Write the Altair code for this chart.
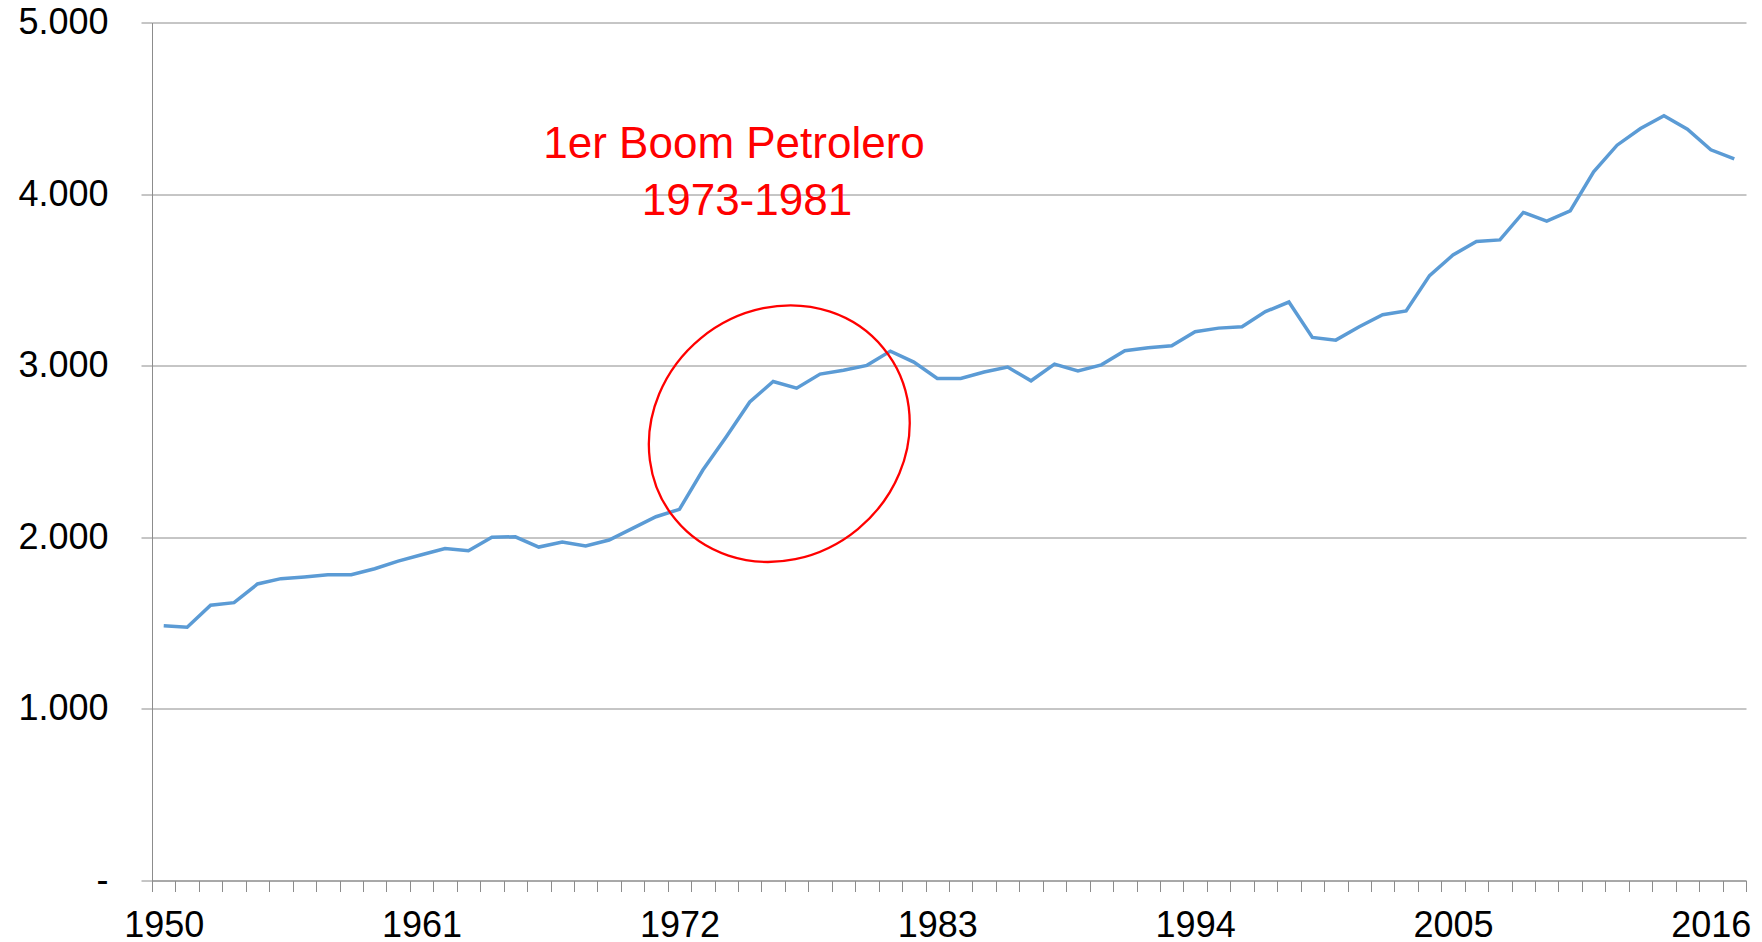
import altair as alt
import pandas as pd
import math

# ---- data ----
years = list(range(1950, 2018))
values = [
    1485, 1476, 1604, 1619, 1728, 1759, 1769, 1782, 1782, 1817,
    1861, 1898, 1935, 1922, 2001, 2003, 1943, 1972, 1949, 1984,
    2052, 2120, 2163, 2392, 2586, 2789, 2908, 2869, 2951, 2974,
    3002, 3085, 3021, 2926, 2926, 2963, 2992, 2912, 3009, 2969,
    3005, 3087, 3104, 3116, 3198, 3219, 3227, 3315, 3371, 3165,
    3149, 3227, 3297, 3319, 3525, 3645, 3724, 3733, 3893, 3842,
    3902, 4130, 4285, 4382, 4457, 4378, 4258, 4205,
]
label_years = [1950, 1961, 1972, 1983, 1994, 2005, 2016]
y_ticks = [0, 1000, 2000, 3000, 4000, 5000]

annotation_text = ["1er Boom Petrolero", "1973-1981"]
annotation_x = [1974.33, 1974.88]
annotation_y = [4209, 3878]

circle_x = [1976.26]
circle_y = [2604]

# ---- layout / style ----
W = 1594
H = 858
n_cat = len(years)
band = W / n_cat
GRAY = "#8c8c8c"
FONT = "Liberation Sans, Arial, sans-serif"

# slightly tilted ellipse outline (unit shape, scaled by symbol size)
ELL_A = 134.7          # semi-major axis, px
ELL_RATIO = 0.9146     # minor / major
ELL_ROT = -39.5        # degrees
ca = math.cos(math.radians(ELL_ROT))
sa = math.sin(math.radians(ELL_ROT))
ellipse_path = (
    f"M {ca:.4f} {sa:.4f} "
    f"A 1 {ELL_RATIO} {ELL_ROT} 1 1 {-ca:.4f} {-sa:.4f} "
    f"A 1 {ELL_RATIO} {ELL_ROT} 1 1 {ca:.4f} {sa:.4f} Z"
)

df = pd.DataFrame({"year": years, "value": values})
ann = pd.DataFrame({"x": annotation_x, "y": annotation_y, "t": annotation_text})
circ = pd.DataFrame({"x": circle_x, "y": circle_y})

tick_vals = [y - 0.5 for y in range(years[0], years[-1] + 2)]
x_label_expr = (
    "indexof([" + ",".join(str(y) for y in label_years) + "], datum.value + 0.5) >= 0"
    " ? format(datum.value + 0.5, 'd') : ''"
)
y_label_expr = (
    "datum.value == 0 ? '-\u00a0\u00a0' : replace(format(datum.value, ','), ',', '.')"
)

x_scale = alt.Scale(domain=[years[0] - 0.5, years[-1] + 0.5], nice=False, zero=False)
y_scale = alt.Scale(domain=[0, 5000], nice=False)

x_axis = alt.Axis(
    values=tick_vals,
    tickCount=200,
    labelExpr=x_label_expr,
    labelOffset=band / 2,
    labelOverlap=False,
    labelFlush=False,
    labelAngle=0,
    labelFontSize=36,
    labelFont=FONT,
    labelColor="black",
    labelPadding=17,
    tickSize=11,
    tickColor=GRAY,
    domainColor=GRAY,
    grid=False,
    title=None,
)
y_axis = alt.Axis(
    values=y_ticks,
    tickCount=20,
    labelExpr=y_label_expr,
    labelFontSize=36,
    labelFont=FONT,
    labelColor="black",
    labelPadding=33,
    tickSize=11,
    tickColor=GRAY,
    domainColor=GRAY,
    grid=True,
    gridColor=GRAY,
    gridWidth=1,
    title=None,
)

line = alt.Chart(df).mark_line(color="#5B9BD5", strokeWidth=3.5).encode(
    x=alt.X("year:Q", scale=x_scale, axis=x_axis),
    y=alt.Y("value:Q", scale=y_scale, axis=y_axis),
)

circle = alt.Chart(circ).mark_point(
    shape=ellipse_path, size=(2 * ELL_A) ** 2, filled=False, stroke="red",
    strokeWidth=2.3, opacity=1,
).encode(
    x=alt.X("x:Q", scale=x_scale),
    y=alt.Y("y:Q", scale=y_scale),
)

text = alt.Chart(ann).mark_text(
    font=FONT, fontSize=44, color="red", align="center", baseline="alphabetic",
).encode(
    x=alt.X("x:Q", scale=x_scale),
    y=alt.Y("y:Q", scale=y_scale),
    text="t:N",
)

chart = (
    alt.layer(line, circle, text)
    .properties(
        width=W,
        height=H,
        padding={"left": 144, "top": 14.5, "right": 8, "bottom": 70},
        autosize=alt.AutoSizeParams(type="none"),
        background="white",
    )
    .configure_view(stroke=None)
)

chart.save("out.html", embed_options={"renderer": "svg", "actions": False})
